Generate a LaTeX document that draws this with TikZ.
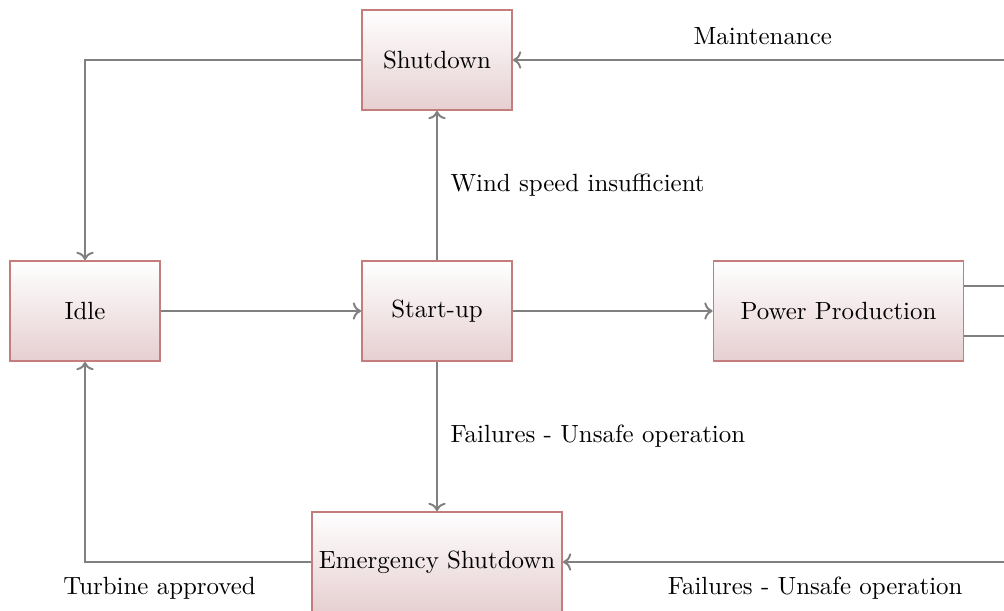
\documentclass[tikz,border=0pt]{standalone}
\usetikzlibrary{arrows.meta}

\definecolor{boxline}{RGB}{196,124,124}
\definecolor{boxshade}{RGB}{230,207,209}
\definecolor{flowline}{RGB}{128,128,128}

\begin{document}
\begin{tikzpicture}[x=0.72cm, y=0.72cm, font=\fontsize{10.2pt}{12pt}\selectfont,
  state/.style={draw=boxline, thick, top color=white, bottom color=boxshade,
    minimum width=2.16cm, minimum height=1.44cm, inner sep=0pt},
  flow/.style={draw=flowline, thick, ->}]

\clip (0,0) rectangle (20.08,12.2);

\node[state] (shut) at (8.74,11.0) {Shutdown};
\node[state] (idle) at (1.7,5.98) {Idle};
\node[state] (start) at (8.74,5.98) {Start-up};
\node[state, minimum width=3.6cm] (power) at (16.77,5.98) {Power Production};
\node[state, minimum width=3.6cm] (emerg) at (8.74,0.96) {Emergency Shutdown};

\coordinate (maint) at (20.6,11.0);
\coordinate (fail) at (20.6,0.96);
\coordinate (out1) at (20.6,6.48);
\coordinate (out2) at (20.6,5.48);

\draw[flow] (shut.west) -| (idle.north);
\draw[flow] (idle) -- (start);
\draw[flow] (start) -- node[right, xshift=1.8pt] {Wind speed insufficient} (shut);
\draw[flow] (start) -- (power);
\draw[flow] (start) -- node[right, xshift=1.8pt] {Failures - Unsafe operation} (emerg);
\draw[flow] (emerg.west) -| node[below, yshift=-2.5pt, pos=0.335] {Turbine approved} (idle.south);
\draw[flow] (maint) -- node[above, yshift=2.5pt, pos=0.517] {Maintenance} (shut);
\draw[flow] (fail) -- node[below, yshift=-2.5pt, pos=0.46] {Failures - Unsafe operation} (emerg);
\draw[flowline, thick] (power.east |- out1) -- (out1);
\draw[flowline, thick] (power.east |- out2) -- (out2);
\end{tikzpicture}
\end{document}
